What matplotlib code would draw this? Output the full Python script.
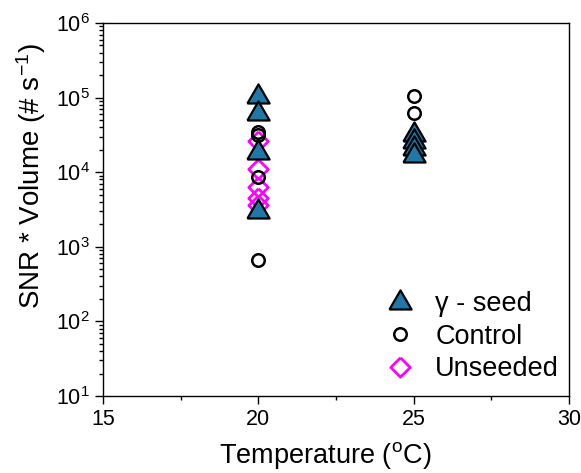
import matplotlib
matplotlib.use("Agg")
import matplotlib.pyplot as plt
from matplotlib.ticker import LogLocator, MultipleLocator, NullFormatter

plt.rcParams['font.family'] = ['Liberation Sans', 'DejaVu Sans']
plt.rcParams['mathtext.fontset'] = 'custom'
plt.rcParams['mathtext.rm'] = 'Liberation Sans'
plt.rcParams['mathtext.it'] = 'Liberation Sans:italic'
plt.rcParams['mathtext.default'] = 'regular'

# Measurements: temperature (deg C) and SNR * volume (# s^-1)
seed_temp = [20, 20, 20, 20, 25, 25, 25, 25]
seed_val = [1.08e5, 6.5e4, 1.9e4, 3.1e3, 3.4e4, 2.7e4, 2.2e4, 1.75e4]

control_temp = [20, 20, 20, 20, 25, 25]
control_val = [3.5e4, 3.2e4, 8.7e3, 6.6e2, 1.05e5, 6.2e4]

unseeded_temp = [20, 20, 20, 20, 20]
unseeded_val = [2.6e4, 1.1e4, 6.3e3, 4.5e3, 3.6e3]

x_ticks = [15, 20, 25, 30]

tri = [(-1.0, -0.72), (1.0, -0.72), (0.0, 1.0), (-1.0, -0.72)]
dia = [(0.0, 1.0), (1.0, 0.0), (0.0, -1.0), (-1.0, 0.0), (0.0, 1.0)]

fig = plt.figure(figsize=(5.81, 4.73), dpi=100)
ax = fig.add_axes([0.1773, 0.1628, 0.8020, 0.7886])

ax.plot(unseeded_temp, unseeded_val, linestyle='none', marker=dia, ms=14,
        mfc='none', mec='#ff00ff', mew=2.0, label='Unseeded', zorder=3)
ax.plot(seed_temp, seed_val, linestyle='none', marker=tri, ms=16,
        mfc='#1f78a8', mec='black', mew=1.6, label='\u03b3 - seed', zorder=4)
ax.plot(control_temp, control_val, linestyle='none', marker='o', ms=9,
        mfc='none', mec='black', mew=1.8, label='Control', zorder=5)

ax.set_yscale('log')
ax.set_xlim(15, 30)
ax.set_ylim(1e1, 1e6)
ax.set_xticks(x_ticks)
ax.xaxis.set_minor_locator(MultipleLocator(2.5))
ax.yaxis.set_major_locator(LogLocator(base=10, numticks=10))
ax.yaxis.set_minor_locator(LogLocator(base=10, subs=range(2, 10), numticks=20))
ax.yaxis.set_minor_formatter(NullFormatter())

ax.tick_params(axis='both', which='major', direction='out', length=6, width=1,
               labelsize=15.5, top=False, right=False)
ax.tick_params(axis='both', which='minor', direction='out', length=3, width=1,
               top=False, right=False)
for s in ax.spines.values():
    s.set_linewidth(1.0)
    s.set_color('black')

ax.set_xlabel('Temperature ($^{\\mathrm{o}}$C)', fontsize=19.5)
ax.set_ylabel('SNR * Volume (# s$^{-1}$)', fontsize=20)
ax.xaxis.set_label_coords(0.476, -0.118)
ax.yaxis.set_label_coords(-0.118, 0.59)

handles, labels = ax.get_legend_handles_labels()
order = [1, 2, 0]
leg = ax.legend([handles[i] for i in order], [labels[i] for i in order],
                loc='lower right', frameon=False, fontsize=19.5,
                handletextpad=0.5, labelspacing=0.25, borderaxespad=0.2,
                handlelength=1.6, bbox_to_anchor=(1.014, -0.007))

fig.savefig('out.png', dpi=100)
